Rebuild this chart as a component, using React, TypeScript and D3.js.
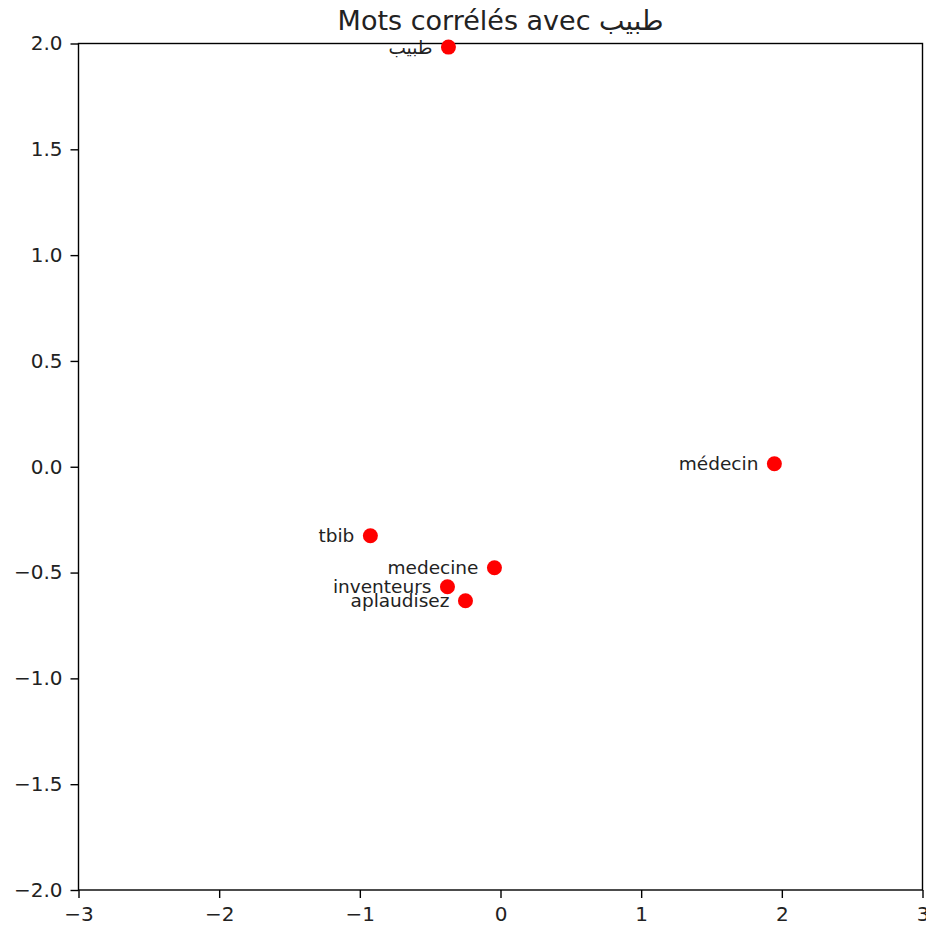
import React, { useEffect, useRef } from 'react'
import * as d3 from 'd3'

// words and their 2D projection
const words = ['طبيب', 'médecin', 'tbib', 'medecine', 'inventeurs', 'aplaudisez']
const xs = [-0.37, 1.947, -0.925, -0.043, -0.377, -0.249]
const ys = [1.983, 0.014, -0.326, -0.477, -0.567, -0.633]

const xTicks = [-3, -2, -1, 0, 1, 2, 3]
const yTicks = [-2.0, -1.5, -1.0, -0.5, 0.0, 0.5, 1.0, 1.5, 2.0]

const title = 'Mots corrélés avec طبيب'

const W = 926
const H = 930
const margin = { top: 43.5, right: 3.5, bottom: 40, left: 78.5 }

const App = () => {
  const ref = useRef<SVGSVGElement>(null)

  useEffect(() => {
    const svg = d3.select(ref.current)
    svg.selectAll('*').remove()

    const x = d3.scaleLinear().domain([-3, 3]).range([margin.left, W - margin.right])
    const y = d3.scaleLinear().domain([-2, 2]).range([H - margin.bottom, margin.top])

    const fmtMinus = (s: string) => s.replace('-', '\u2212')

    // x axis
    const xAxis = d3.axisBottom(x)
      .tickValues(xTicks)
      .tickSize(8)
      .tickPadding(9)
      .tickFormat(d => fmtMinus(d3.format('d')(d as number)))
    const gx = svg.append('g')
      .attr('transform', `translate(0,${H - margin.bottom})`)
      .call(xAxis)
    gx.select('.domain').remove()

    const yAxis = d3.axisLeft(y)
      .tickValues(yTicks)
      .tickSize(8)
      .tickPadding(8)
      .tickFormat(d => fmtMinus(d3.format('.1f')(d as number)))
    const gy = svg.append('g')
      .attr('transform', `translate(${margin.left},0)`)
      .call(yAxis)
    gy.select('.domain').remove()

    svg.selectAll('.tick text')
      .attr('font-family', 'DejaVu Sans')
      .attr('font-size', 20)
      .attr('fill', '#222')
    svg.selectAll('.tick line').attr('stroke', '#000').attr('stroke-width', 1.4)

    // frame
    svg.append('rect')
      .attr('x', margin.left)
      .attr('y', margin.top)
      .attr('width', W - margin.left - margin.right)
      .attr('height', H - margin.top - margin.bottom)
      .attr('fill', 'none')
      .attr('stroke', '#000')
      .attr('stroke-width', 1.4)

    // points
    const data = words.map((w, i) => ({ w, x: xs[i], y: ys[i] }))
    svg.append('g')
      .selectAll('circle')
      .data(data)
      .join('circle')
      .attr('cx', d => x(d.x))
      .attr('cy', d => y(d.y))
      .attr('r', 7.5)
      .attr('fill', 'red')

    svg.append('g')
      .selectAll('text')
      .data(data)
      .join('text')
      .attr('x', d => x(d.x) - 16)
      .attr('y', d => y(d.y) + 1.5)
      .attr('text-anchor', 'end')
      .attr('dominant-baseline', 'middle')
      .attr('font-family', 'DejaVu Sans')
      .attr('font-size', 18.5)
      .attr('fill', '#222')
      .text(d => d.w)

    svg.append('text')
      .attr('x', (margin.left + W - margin.right) / 2)
      .attr('y', 30)
      .attr('text-anchor', 'middle')
      .attr('font-family', 'DejaVu Sans')
      .attr('font-size', 27)
      .attr('fill', '#222')
      .text(title)
  }, [])

  return (
    <svg
      ref={ref}
      width={W}
      height={H}
      style={{ position: 'absolute', left: 0, top: 0, background: '#fff' }}
    />
  )
}

export default App
